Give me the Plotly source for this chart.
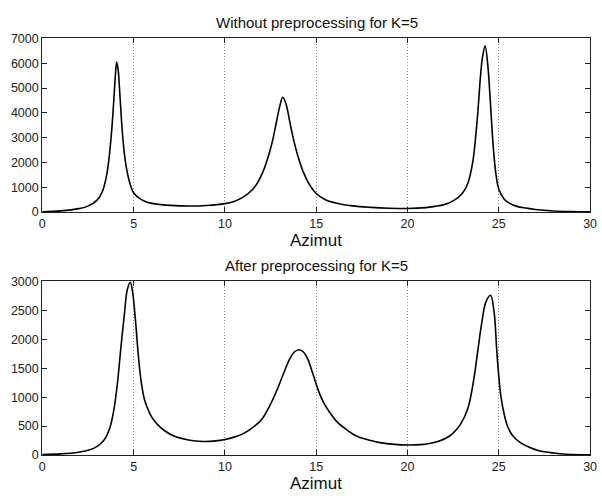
import plotly.graph_objects as go

# ---- data ----
top_x = [0, 1, 2, 2.5, 3.0, 3.3, 3.5, 3.6, 3.7, 3.8, 3.9, 4.0, 4.07, 4.15, 4.25, 4.35, 4.45, 4.6, 4.8,
         5.0, 5.3, 5.6, 6.0, 6.5, 7, 8, 9, 10, 10.5, 11, 11.5, 11.8, 12.1, 12.4, 12.6, 12.8, 13.0,
         13.17, 13.35, 13.55, 13.75, 14.0, 14.3, 14.6, 15.0, 15.5, 16, 17, 18, 19, 20, 21, 21.5,
         22, 22.5, 23, 23.3, 23.57, 23.83, 24.0, 24.1, 24.25, 24.4, 24.55, 24.7, 24.85, 25.0,
         25.3, 25.6, 26, 26.5, 27, 28, 29, 30]
top_y = [15, 50, 140, 240, 480, 850, 1400, 1850, 2500, 3300, 4350, 5500, 6050, 5750, 4700, 3550, 2650, 1800, 1150,
         780, 560, 440, 350, 300, 270, 245, 265, 340, 430, 600, 900, 1200, 1650, 2300, 2850, 3550, 4250,
         4630, 4350, 3650, 2950, 2250, 1600, 1150, 750, 500, 380, 250, 190, 155, 145, 180, 230,
         300, 450, 750, 1150, 2000, 3830, 5500, 6200, 6700, 5900, 4300, 2600, 1500, 920,
         520, 350, 230, 160, 105, 45, 20, 10]

bot_x = [0, 1, 2, 2.6, 3.0, 3.3, 3.5, 3.7, 3.9, 4.1, 4.3, 4.5, 4.65, 4.82, 4.95, 5.1, 5.25, 5.4, 5.6,
         5.8, 6.0, 6.3, 6.7, 7.2, 8, 8.8, 9.5, 10, 10.5, 11, 11.5, 12, 12.5, 12.9, 13.25, 13.55,
         13.8, 14.05, 14.3, 14.55, 14.8, 15.1, 15.4, 15.8, 16.2, 16.7, 17.2, 18, 18.5, 19.3, 20,
         20.7, 21.2, 21.7, 22.1, 22.5, 22.9, 23.3, 23.6, 23.85, 24.05, 24.3, 24.55, 24.75, 24.9,
         25.1, 25.3, 25.5, 25.8, 26.2, 26.7, 27.2, 28, 28.7, 30]
bot_y = [10, 20, 50, 90, 150, 230, 320, 470, 750, 1200, 1850, 2450, 2850, 2985, 2800, 2330, 1750, 1300, 950,
         780, 650, 530, 420, 330, 260, 235, 245, 270, 310, 370, 470, 610, 880, 1160, 1440, 1660,
         1780, 1820, 1780, 1650, 1420, 1130, 910, 710, 555, 430, 330, 250, 215, 185, 175,
         180, 200, 240, 290, 380, 530, 800, 1250, 1800, 2250, 2650, 2760, 2450, 1750,
         1050, 700, 480, 320, 210, 130, 75, 35, 15, 5]

x_ticks = [0, 5, 10, 15, 20, 25, 30]
top_yticks = [0, 1000, 2000, 3000, 4000, 5000, 6000, 7000]
bot_yticks = [0, 500, 1000, 1500, 2000, 2500, 3000]

titles = ["Without preprocessing for K=5", "After preprocessing for K=5"]
xlabel = "Azimut"

W, H = 602, 499
FONT = "Liberation Sans, Arial, Helvetica, sans-serif"

fig = go.Figure()
line_style = dict(color="black", width=1.6, shape="spline", smoothing=1.0)
fig.add_trace(go.Scatter(x=top_x, y=top_y, mode="lines", line=line_style,
                         xaxis="x", yaxis="y", showlegend=False, hoverinfo="skip"))
fig.add_trace(go.Scatter(x=bot_x, y=bot_y, mode="lines", line=line_style,
                         xaxis="x2", yaxis="y2", showlegend=False, hoverinfo="skip"))

xdom = [40 / W, 597 / W]
top_dom = [(H - 211) / H, (H - 32.3) / H]
bot_dom = [(H - 461) / H, (H - 282.3) / H]

common_x = dict(range=[0, 30], tickvals=x_ticks, ticks="inside", ticklen=5, tickcolor="#222",
                showline=True, linecolor="#222", linewidth=1.2, mirror="ticks",
                showgrid=True, gridcolor="#8a8a8a", griddash="1px,2px", gridwidth=1, zeroline=False,
                ticklabeloverflow="allow",
                tickfont=dict(family=FONT, size=12.5, color="#222"))
common_y = dict(ticks="inside", ticklen=5, tickcolor="#222", showline=True, linecolor="#222",
                linewidth=1.2, mirror="ticks", showgrid=False, zeroline=False,
                ticklabeloverflow="allow",
                tickfont=dict(family=FONT, size=12.5, color="#222"))

fig.update_layout(
    width=W, height=H, margin=dict(l=0, r=0, t=0, b=0),
    paper_bgcolor="white", plot_bgcolor="white",
    xaxis=dict(domain=xdom, anchor="y", **common_x),
    yaxis=dict(domain=top_dom, anchor="x", range=[0, 7000], tickvals=top_yticks, **common_y),
    xaxis2=dict(domain=xdom, anchor="y2", **common_x),
    yaxis2=dict(domain=bot_dom, anchor="x2", range=[0, 3000], tickvals=bot_yticks, **common_y),
)

ann = []
for t, ypx in zip(titles, [16, 266]):
    ann.append(dict(text=t, x=319 / W, y=(H - ypx) / H, xref="paper", yref="paper", showarrow=False,
                    xanchor="center", yanchor="middle", font=dict(family=FONT, size=15, color="#111")))
for ypx in [240, 490]:
    ann.append(dict(text=xlabel, x=318 / W, y=(H - ypx) / H, xref="paper", yref="paper", showarrow=False,
                    xanchor="center", yanchor="middle", font=dict(family=FONT, size=17, color="#111")))
fig.update_layout(annotations=ann)

fig.write_html("out.html")
